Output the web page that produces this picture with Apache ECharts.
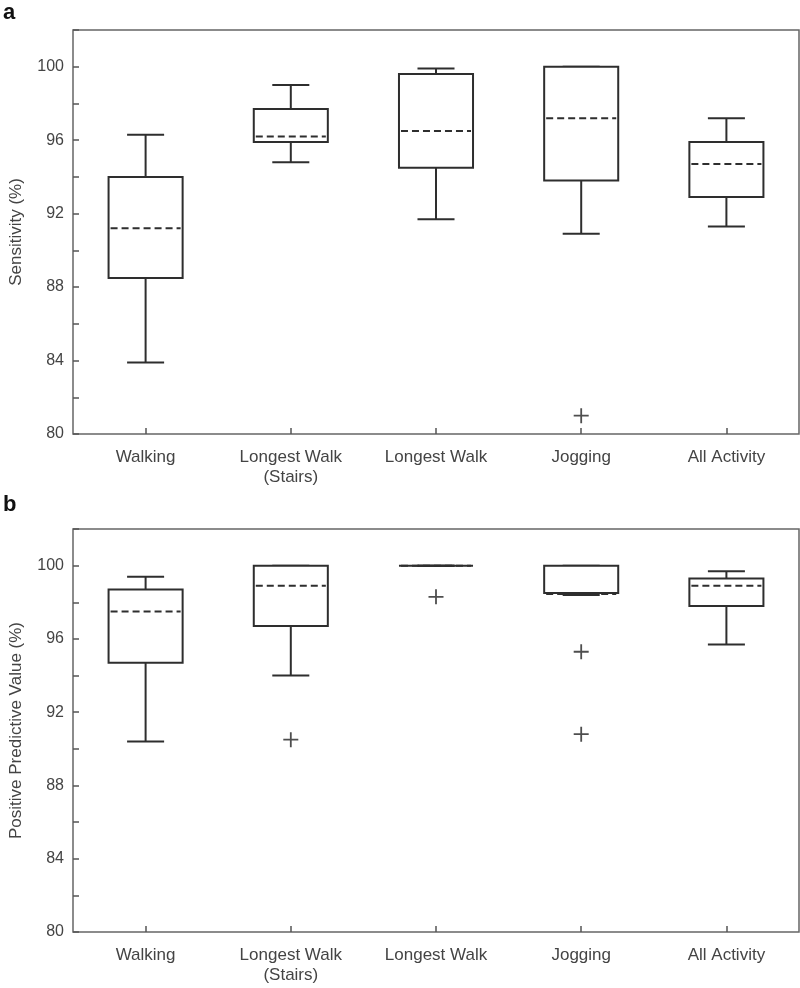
<!DOCTYPE html>
<html>
<head>
<meta charset="utf-8">
<script src="https://cdn.jsdelivr.net/npm/echarts@6/dist/echarts.min.js"></script>
<style>
html,body{margin:0;padding:0;background:#fff;}
#chart{width:800px;height:988px;}
</style>
</head>
<body>
<div id="chart"></div>
<script>
// ---- Data ----
const categories = ['Walking', 'Longest Walk\n(Stairs)', 'Longest Walk', 'Jogging', 'All Activity'];
const yTickLabels = [80, 84, 88, 92, 96, 100];

// Panel a: Sensitivity (%)
const sensLow  = [83.9, 94.8, 91.7, 90.9, 91.3];
const sensQ1   = [88.5, 95.9, 94.5, 93.8, 92.9];
const sensMed  = [91.2, 96.2, 96.5, 97.2, 94.7];
const sensQ3   = [94.0, 97.7, 99.6, 100.0, 95.9];
const sensHigh = [96.3, 99.0, 99.9, 100.0, 97.2];
const sensOutliers = [[3, 81.0]];

// Panel b: Positive Predictive Value (%)
const ppvLow  = [90.4, 94.0, 100.0, 98.4, 95.7];
const ppvQ1   = [94.7, 96.7, 100.0, 98.5, 97.8];
const ppvMed  = [97.5, 98.9, 100.0, 98.45, 98.9];
const ppvQ3   = [98.7, 100.0, 100.0, 100.0, 99.3];
const ppvHigh = [99.4, 100.0, 100.0, 100.0, 99.7];
const ppvOutliers = [[1, 90.5], [2, 98.3], [3, 95.3], [3, 90.8]];

// ---- Build ----
function boxData(lo, q1, med, q3, hi) {
  return categories.map((c, i) => [i, lo[i], q1[i], med[i], q3[i], hi[i]]);
}

const LINE = '#2e2e2e';
function renderBox(params, api) {
  const i = api.value(0);
  const pLo = api.coord([i, api.value(1)]);
  const pQ1 = api.coord([i, api.value(2)]);
  const pMed = api.coord([i, api.value(3)]);
  const pQ3 = api.coord([i, api.value(4)]);
  const pHi = api.coord([i, api.value(5)]);
  const band = api.size([1, 0])[0];
  const bw = band * 0.51;
  const cw = bw / 2;
  const cx = pMed[0];
  const st = { stroke: LINE, lineWidth: 2, fill: null };
  return {
    type: 'group',
    children: [
      { type: 'line', shape: { x1: cx, y1: pHi[1], x2: cx, y2: pQ3[1] }, style: st },
      { type: 'line', shape: { x1: cx, y1: pQ1[1], x2: cx, y2: pLo[1] }, style: st },
      { type: 'line', shape: { x1: cx - cw / 2, y1: pHi[1], x2: cx + cw / 2, y2: pHi[1] }, style: st },
      { type: 'line', shape: { x1: cx - cw / 2, y1: pLo[1], x2: cx + cw / 2, y2: pLo[1] }, style: st },
      { type: 'rect', shape: { x: cx - bw / 2, y: pQ3[1], width: bw, height: pQ1[1] - pQ3[1] }, style: { stroke: LINE, lineWidth: 2, fill: '#fff' } },
      { type: 'line', shape: { x1: cx - bw / 2 + 2, y1: pMed[1], x2: cx + bw / 2 - 2, y2: pMed[1] }, style: { stroke: LINE, lineWidth: 2, lineDash: [7, 4] } }
    ]
  };
}

const FONT = 'Arial, "Liberation Sans", sans-serif';
const TXT = '#444';

function xAxis(gi) {
  return {
    type: 'category', gridIndex: gi, data: categories, boundaryGap: true,
    axisLine: { show: false },
    axisTick: { show: true, inside: true, alignWithLabel: true, length: 6, lineStyle: { color: '#555', width: 1.5 } },
    axisLabel: { color: TXT, fontSize: 17, fontFamily: FONT, margin: 13, lineHeight: 20, interval: 0 },
    splitLine: { show: false }
  };
}
function yAxis(gi, name) {
  return {
    type: 'value', gridIndex: gi, min: 80, max: 102, interval: 2,
    name: name, nameLocation: 'middle', nameGap: 48, nameRotate: 90,
    nameTextStyle: { color: TXT, fontSize: 17, fontFamily: FONT },
    axisLine: { show: false },
    axisTick: { show: true, inside: true, length: 6, lineStyle: { color: '#555', width: 1.5 } },
    axisLabel: {
      color: TXT, fontSize: 16, fontFamily: FONT, margin: 9,
      formatter: v => (yTickLabels.indexOf(v) >= 0 ? String(v) : '')
    },
    splitLine: { show: false }
  };
}
const plusSymbol = 'path://M4.4,0H5.6V10H4.4Z M0,4.4H10V5.6H0Z';

const chart = echarts.init(document.getElementById('chart'), null, { renderer: 'canvas' });
chart.setOption({
  backgroundColor: '#fff',
  animation: false,
  graphic: [
    { type: 'text', left: 3, top: 2, style: { text: 'a', font: 'bold 22px ' + FONT, fill: '#111' } },
    { type: 'text', left: 3, top: 494, style: { text: 'b', font: 'bold 22px ' + FONT, fill: '#111' } }
  ],
  grid: [
    { left: 72, top: 30, width: 727, height: 404, show: true, borderColor: '#666', borderWidth: 1.5, backgroundColor: 'transparent' },
    { left: 72, top: 529, width: 727, height: 403, show: true, borderColor: '#666', borderWidth: 1.5, backgroundColor: 'transparent' }
  ],
  xAxis: [xAxis(0), xAxis(1)],
  yAxis: [yAxis(0, 'Sensitivity (%)'), yAxis(1, 'Positive Predictive Value (%)')],
  series: [
    {
      type: 'custom', xAxisIndex: 0, yAxisIndex: 0,
      data: boxData(sensLow, sensQ1, sensMed, sensQ3, sensHigh),
      encode: { x: 0, y: [1, 2, 3, 4, 5] },
      renderItem: renderBox
    },
    {
      type: 'scatter', xAxisIndex: 0, yAxisIndex: 0, data: sensOutliers,
      symbol: plusSymbol, symbolSize: 15, itemStyle: { color: '#222' }
    },
    {
      type: 'custom', xAxisIndex: 1, yAxisIndex: 1,
      data: boxData(ppvLow, ppvQ1, ppvMed, ppvQ3, ppvHigh),
      encode: { x: 0, y: [1, 2, 3, 4, 5] },
      renderItem: renderBox
    },
    {
      type: 'scatter', xAxisIndex: 1, yAxisIndex: 1, data: ppvOutliers,
      symbol: plusSymbol, symbolSize: 15, itemStyle: { color: '#222' }
    }
  ]
});
</script>
</body>
</html>
